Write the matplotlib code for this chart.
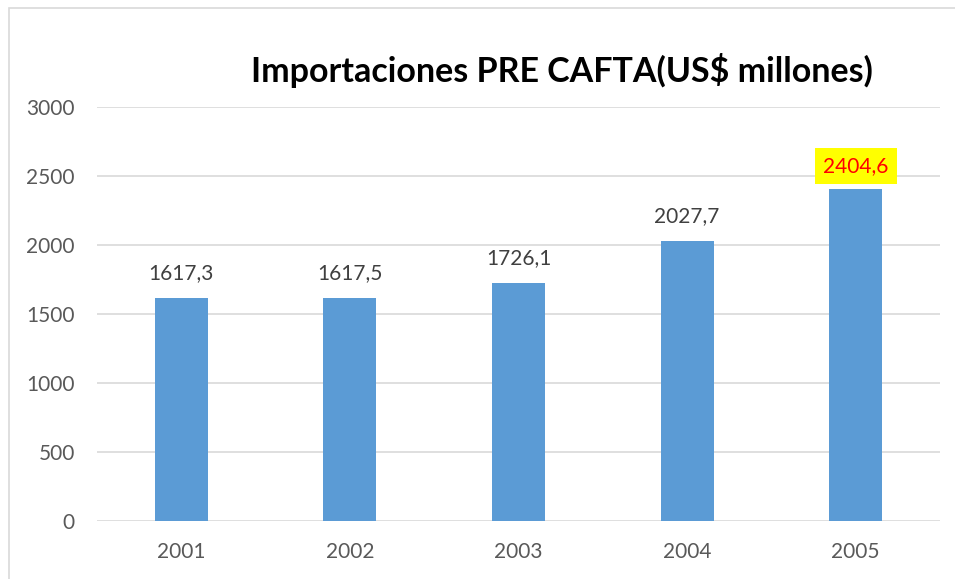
import matplotlib.pyplot as plt
from matplotlib.patches import Rectangle
import numpy as np

years = ['2001', '2002', '2003', '2004', '2005']
valores = [1617.3, 1617.5, 1726.1, 2027.7, 2404.6]
etiquetas = ['1617,3', '1617,5', '1726,1', '2027,7', '2404,6']
y_ticks = [0, 500, 1000, 1500, 2000, 2500, 3000]

plt.rcParams['font.family'] = ['Lato', 'DejaVu Sans']

fig = plt.figure(figsize=(9.55, 5.79), dpi=100)
ax = fig.add_axes([97 / 955, 1 - 521 / 579, (940 - 97) / 955, (521 - 107) / 579])

x = np.arange(len(years))
ax.bar(x, valores, width=0.315, color='#5B9BD5', zorder=3)

ax.set_xlim(-0.5, len(years) - 0.5)
ax.set_ylim(0, 3000)
ax.set_yticks(y_ticks)
ax.set_xticks(x)
ax.set_xticklabels(years)
ax.grid(axis='y', color='#D9D9D9', linewidth=1.2, zorder=0)
for s in ax.spines.values():
    s.set_visible(False)
ax.tick_params(axis='both', length=0, labelsize=15, labelcolor='#595959')
ax.tick_params(axis='y', pad=16)
ax.tick_params(axis='x', pad=15)

# etiquetas de datos
for i, (v, t) in enumerate(zip(valores, etiquetas)):
    if i == len(valores) - 1:
        ax.text(i, v + 95, t, ha='center', va='bottom', fontsize=15, color='#FF0000',
                bbox=dict(facecolor='#FFFF00', edgecolor='none', pad=6))
    else:
        ax.text(i, v + 110, t, ha='center', va='bottom', fontsize=15, color='#404040')

fig.text(562 / 955, 1 - 70 / 579, 'Importaciones PRE CAFTA(US$ millones)', ha='center', va='center',
         fontsize=24.5, fontweight='bold', color='black')

# borde del grafico
fig.patches.append(Rectangle((9 / 955, -0.1), 1.2, 1.1 - 8 / 579, transform=fig.transFigure,
                             fill=False, edgecolor='#D9D9D9', linewidth=1.2))

fig.savefig('out.png', dpi=100)
